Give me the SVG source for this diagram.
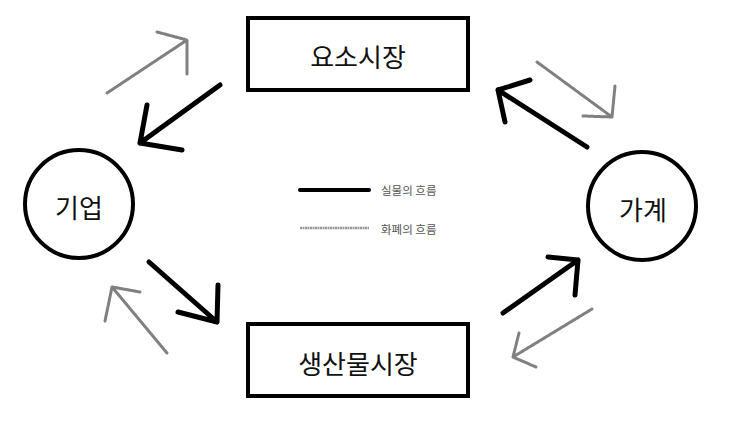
<svg xmlns="http://www.w3.org/2000/svg" width="743" height="422" viewBox="0 0 743 422">
<style>
.box{fill:#fff;stroke:#000;stroke-width:4}
.node{fill:#fff;stroke:#000;stroke-width:4}
.lbl{font-family:"Noto Sans CJK KR","Noto Sans",sans-serif;font-size:26px;fill:#111;text-anchor:middle;dominant-baseline:central}
.leg{font-family:"Noto Sans CJK KR","Noto Sans",sans-serif;font-size:11.5px;fill:#555;dominant-baseline:central}
.real{fill:none;stroke:#000;stroke-width:5;stroke-linecap:round;stroke-linejoin:round}
.money{fill:none;stroke:#808080;stroke-width:3;stroke-linecap:round;stroke-linejoin:round;stroke-dasharray:2 0.6}
</style>
<rect width="743" height="422" fill="#fff"/>
<g id="factor-market">
<rect class="box" x="248" y="18" width="220" height="72"/>
<text class="lbl" x="358" y="55">요소시장</text>
</g>
<g id="product-market">
<rect class="box" x="248" y="324" width="220" height="72"/>
<text class="lbl" x="358" y="362">생산물시장</text>
</g>
<g id="firm">
<circle class="node" cx="79" cy="204" r="54"/>
<text class="lbl" x="79" y="206">기업</text>
</g>
<g id="household">
<circle class="node" cx="642" cy="206" r="54"/>
<text class="lbl" x="643" y="208">가계</text>
</g>
<g id="connectors">
<path class="money" d="M107,93 L187,40 M157,32 L187,40 L187,74"/>
<path class="real" d="M220,85 L140,143 M147,105 L140,143 L182,150"/>
<path class="money" d="M537,62 L612,117 M615,86 L612,117 L583,116"/>
<path class="real" d="M587,147 L498,90 M530,80 L498,90 L505,122"/>
<path class="real" d="M149,262 L217,322 M218,285 L217,322 L178,312"/>
<path class="money" d="M167,353 L112,287 M140,292 L112,287 L105,321"/>
<path class="real" d="M503,313 L578,260 M548,257 L578,260 L575,295"/>
<path class="money" d="M592,309 L513,357 M519,333 L513,357 L536,367"/>
</g>
<g id="legend">
<line x1="300" y1="190" x2="369" y2="190" stroke="#000" stroke-width="4" stroke-linecap="round"/>
<text class="leg" x="381" y="190">실물의 흐름</text>
<line x1="300" y1="228" x2="369" y2="228" stroke="#999" stroke-width="2.5" stroke-dasharray="2 0.5"/>
<text class="leg" x="381" y="229">화폐의 흐름</text>
</g>
</svg>
